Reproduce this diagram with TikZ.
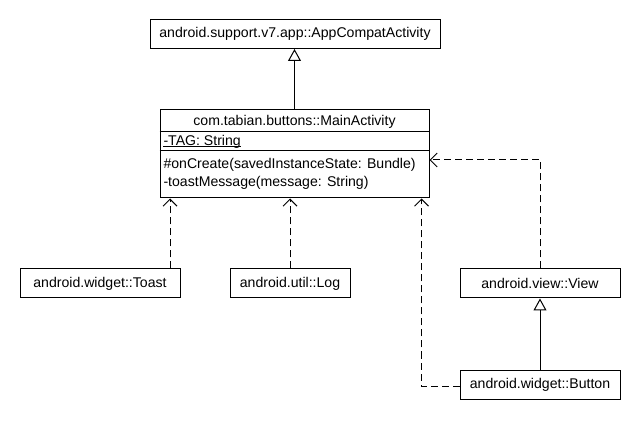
\documentclass[tikz,border=0pt]{standalone}
\usepackage{fontspec}
\setmainfont{Liberation Sans}
\usetikzlibrary{arrows.meta}
\begin{document}
\begin{tikzpicture}[x=1pt,y=-1pt, line width=1pt,
  txt/.style={font=\fontsize{14.1}{18}\selectfont, inner sep=0pt},
  cls/.style={draw, rectangle, minimum height=29pt, inner sep=0pt, font=\fontsize{14.1}{18}\selectfont},
  dep/.style={dash pattern=on 7pt off 4pt, -{Straight Barb[length=7pt,width=14pt]}},
  gen/.style={-{Triangle[open,length=12pt,width=13pt,fill=white]}}]
\fill[white] (0,0) rectangle (640,430);
\useasboundingbox (0,0) rectangle (640,430);

\node[cls, minimum width=290pt] (app) at (295,34) {android.support.v7.app::AppCompatActivity};

\node[draw, minimum width=269pt, minimum height=88pt, inner sep=0pt] (main) at (294.5,154) {};
\draw (main.west |- 0,132) -- (main.east |- 0,132);
\draw (main.west |- 0,151) -- (main.east |- 0,151);
\node[txt] (mtitle) at (294.5,122) {com.tabian.buttons::MainActivity};
\node[txt, anchor=west] (mattr) at (163,141.5) {-TAG: String};
\draw ([yshift=-1.8pt]mattr.base west) -- ([yshift=-1.8pt]mattr.base east);
\node[txt, anchor=west, align=left] (mops) at (163,174) {\#onCreate(savedInstanceState: Bundle)\\-toastMessage(message: String)};

\node[cls, minimum width=160pt] (toast) at (100,283.5) {android.widget::Toast};
\node[cls, minimum width=120pt] (log) at (290,283.5) {android.util::Log};
\node[cls, minimum width=160pt] (view) at (540,283.5) {android.view::View};
\node[cls, minimum width=160pt] (button) at (540,384.5) {android.widget::Button};

\draw[gen] (main.north) -- (main.north |- app.south);
\draw[dep] ([xshift=70pt]toast.north) -- ([xshift=70pt]toast.north |- main.south);
\draw[dep] (log.north) -- (log.north |- main.south);
\draw[dep] (view.north) |- ([yshift=-6pt]main.east);
\draw[dep] ([yshift=-2pt]button.west) -| ([xshift=-8pt]main.south east);
\draw[gen] (button.north) -- (view.south);
\end{tikzpicture}
\end{document}
